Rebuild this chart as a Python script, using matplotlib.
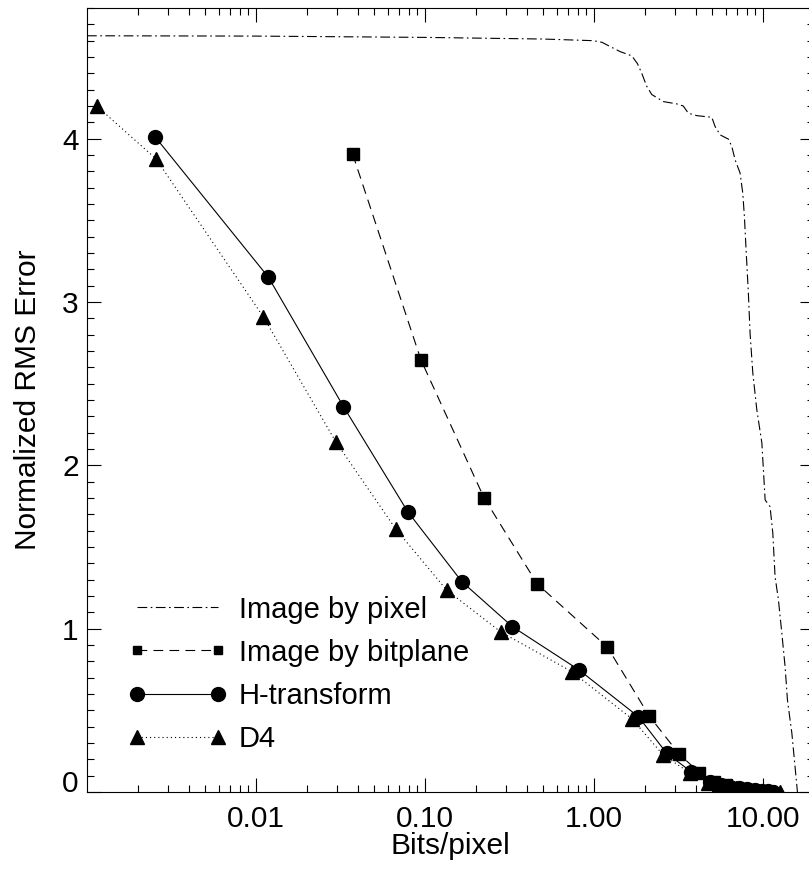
import matplotlib
matplotlib.use("Agg")
import matplotlib.pyplot as plt
from matplotlib.ticker import FixedLocator, LogLocator, MultipleLocator, NullFormatter

plt.rcParams['font.family'] = ['Liberation Sans', 'DejaVu Sans']
plt.rcParams['lines.scale_dashes'] = False

# --- Daten ---
# Image by pixel
pixel_bpp = [0.001, 0.01, 0.1, 0.5, 0.986, 1.114, 1.244, 1.426, 1.671, 1.804,
             1.915, 2.05, 2.195, 2.57, 3.08, 3.37, 3.61, 4.05, 4.97, 5.20,
             5.57, 6.24, 6.53, 6.83, 7.31, 7.58, 7.75, 7.93, 8.18, 8.37,
             8.69, 9.18, 9.83, 10.28, 10.99, 11.41, 11.77, 12.32, 12.90, 13.49,
             13.93, 14.79, 15.96]
pixel_rms = [4.63, 4.628, 4.62, 4.61, 4.60, 4.59, 4.564, 4.533, 4.507, 4.46,
             4.40, 4.32, 4.27, 4.227, 4.213, 4.20, 4.156, 4.141, 4.131, 4.074,
             4.023, 3.997, 3.951, 3.87, 3.789, 3.666, 3.523, 3.319, 3.054, 2.81,
             2.565, 2.339, 2.137, 1.788, 1.747, 1.586, 1.318, 1.176, 0.974, 0.767,
             0.563, 0.361, 0.0]

# Image by bitplane
bitplane_bpp = [0.0373, 0.0946, 0.2235, 0.461, 1.2, 2.12, 3.18, 4.2, 5.13,
                6.0, 7.0, 8.0, 9.0, 10.0]
bitplane_rms = [3.905, 2.645, 1.80, 1.274, 0.886, 0.465, 0.233, 0.118, 0.063,
                0.04, 0.025, 0.014, 0.007, 0.002]

# H-transform
htrans_bpp = [0.00252, 0.01183, 0.0329, 0.0789, 0.165, 0.329, 0.815, 1.83, 2.69,
              3.75, 4.85, 5.6, 6.4, 7.2, 8.0, 8.9, 9.8, 10.7, 11.5]
htrans_rms = [4.013, 3.152, 2.36, 1.717, 1.288, 1.012, 0.747, 0.461, 0.237,
              0.124, 0.063, 0.045, 0.033, 0.024, 0.017, 0.012, 0.008, 0.005, 0.003]

# D4
d4_bpp = [0.00115, 0.00256, 0.01104, 0.0296, 0.0671, 0.134, 0.2806, 0.738, 1.68,
          2.56, 3.70, 4.73, 5.5, 6.2, 6.9, 7.6, 8.3, 9.0, 9.7, 10.4, 11.1, 11.8, 12.6]
d4_rms = [4.197, 3.876, 2.91, 2.145, 1.61, 1.237, 0.98, 0.737, 0.447,
          0.227, 0.116, 0.055, 0.04, 0.03, 0.022, 0.016, 0.011, 0.008, 0.005,
          0.003, 0.002, 0.001, 0.0]

xticks = [0.01, 0.1, 1.0, 10.0]
xtick_labels = ["0.01", "0.10", "1.00", "10.00"]
yticks = [0, 1, 2, 3, 4]

# --- Plot ---
fig = plt.figure(figsize=(8.09, 8.72), dpi=100)
ax = fig.add_axes([87 / 809, 80 / 872, 727 / 809, 784 / 872])

lw = 0.8
ax.plot(pixel_bpp, pixel_rms, color='black', lw=lw, dashes=(7, 2.5, 1.2, 2.5),
        label='Image by pixel')
ax.plot(bitplane_bpp, bitplane_rms, color='black', lw=lw, dashes=(7, 4.5),
        marker='s', ms=8.4, label='Image by bitplane')
ax.plot(htrans_bpp, htrans_rms, color='black', lw=lw, ls='-',
        marker='o', ms=10, label='H-transform')
ax.plot(d4_bpp, d4_rms, color='black', lw=lw, dashes=(0.8, 2.2),
        marker='^', ms=10, label='D4')

ax.set_xscale('log')
ax.set_xlim(0.001, 20)
ax.set_ylim(0, 4.8)

ax.xaxis.set_major_locator(FixedLocator(xticks))
ax.set_xticklabels(xtick_labels)
ax.xaxis.set_minor_locator(LogLocator(base=10, subs=range(2, 10)))
ax.xaxis.set_minor_formatter(NullFormatter())
ax.yaxis.set_major_locator(FixedLocator(yticks))
ax.yaxis.set_minor_locator(MultipleLocator(0.1))

ax.tick_params(which='both', direction='in', top=True, right=True, width=0.8)
ax.tick_params(which='major', length=10, labelsize=21.5)
ax.tick_params(which='minor', length=5)
ax.tick_params(axis='x', which='major', pad=9)
ax.tick_params(axis='y', which='major', pad=6)
for sp in ax.spines.values():
    sp.set_linewidth(0.8)

# "0" sitzt im Original auf der Achse
ax.get_yticklabels()[0].set_va('baseline')

ax.set_xlabel("Bits/pixel", fontsize=21.5)
ax.set_ylabel("Normalized RMS Error", fontsize=21.5)
ax.xaxis.set_label_coords(0.5, -0.051)
ax.yaxis.set_label_coords(-0.062, 0.5)

leg = ax.legend(loc='upper left', bbox_to_anchor=(0.0567, 0.2506), frameon=False,
                fontsize=21, numpoints=2, handlelength=3.37, handletextpad=0.43,
                labelspacing=0.52, borderpad=0, borderaxespad=0)
leg.legend_handles[1].set_markersize(5.5)

fig.savefig("out.png", dpi=100)
